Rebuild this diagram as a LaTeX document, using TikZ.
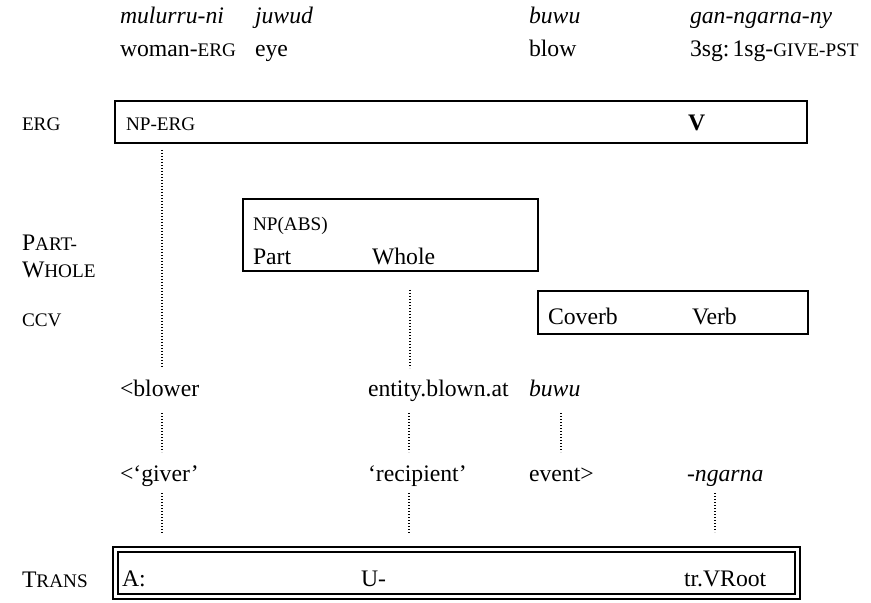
\documentclass[tikz,border=0pt]{standalone}
\usepackage{fontspec}
\setmainfont{Liberation Serif}
% small capitals, faked with reduced upper case
\newcommand\fsc[1]{{\fontsize{9.6}{11}\selectfont #1}}
\begin{document}
\begin{tikzpicture}[x=0.5pt,y=-0.5pt,
  every node/.style={inner sep=0pt, outer sep=0pt},
  txt/.style={anchor=base west, font=\fontsize{11.85}{14}\selectfont},
  gloss/.style={txt, font=\fontsize{11.85}{14}\selectfont\itshape},
  frame/.style={draw, line width=0.55pt},
  heavyframe/.style={draw, line width=1.1pt},
  link/.style={line width=1pt, dash pattern=on 0.7pt off 0.8pt},
]
\useasboundingbox (0,0) rectangle (871,603);

% interlinear gloss
\node[gloss] (w1) at (120,24) {mulurru-ni};
\node[gloss] (w2) at (255,24) {juwud};
\node[gloss] (w3) at (529,24) {buwu};
\node[gloss] (w4) at (690,24) {gan-ngarna-ny};
\node[txt] (g1) at (120,57) {woman-\fsc{ERG}};
\node[txt] (g2) at (255,57) {eye};
\node[txt] (g3) at (529,57) {blow};
\node[txt] (g4) at (690,57) {3sg:\hspace{1.5pt}1sg-\fsc{GIVE-PST}};

% construction labels
\node[txt] (lerg) at (22,131) {\fsc{ERG}};
\node[txt] (lpart) at (22,251) {P\fsc{ART-}};
\node[txt] (lwhole) at (22,278) {W\fsc{HOLE}};
\node[txt] (lccv) at (22,327) {\fsc{CCV}};
\node[txt] (ltrans) at (22,587) {T\fsc{RANS}};

% ergative frame
\node[frame, minimum width=346pt, minimum height=21pt] (ergbox) at (461,122) {};
\node[txt] (nperg) at (126,131) {\fsc{NP-ERG}};
\node[txt] (verb) at (688,131) {\textbf{V}};

% part-whole frame
\node[frame, minimum width=147.5pt, minimum height=36pt] (pwbox) at (390.5,235) {};
\node[txt] (npabs) at (253,231) {\fsc{NP(ABS)}};
\node[txt] (part) at (253,265) {Part};
\node[txt] (whole) at (372,265) {Whole};

% coverb construction frame
\node[frame, minimum width=135pt, minimum height=21.5pt] (ccvbox) at (673,312.5) {};
\node[txt] (coverb) at (548,325) {Coverb};
\node[txt] (ccvverb) at (692,325) {Verb};

% argument structures
\node[txt] (blower) at (120,397) {<blower};
\node[txt] (blownat) at (368,397) {entity.blown.at};
\node[gloss] (buwu) at (529,397) {buwu};
\node[txt] (giver) at (120,481) {<`giver'};
\node[txt] (recip) at (368,481) {`recipient'};
\node[txt] (event) at (529,481) {event>};
\node[gloss] (ngarna) at (687,481) {-ngarna};

% transitive frame (double border)
\node[heavyframe, minimum width=343.5pt, minimum height=26pt] (transbox) at (456.5,573) {};
\node[frame, minimum width=338.5pt, minimum height=21pt] (transinner) at (456.5,573) {};
\node[txt] (ta) at (122,586) {A:};
\node[txt] (tu) at (361,586) {U-};
\node[txt] (troot) at (684,586) {tr.VRoot};

% dotted links
\coordinate (a1) at (162,150);  \coordinate (a2) at (162,368);
\coordinate (b1) at (410,290);  \coordinate (b2) at (410,368);
\coordinate (c1) at (162,413);  \coordinate (c2) at (162,452);
\coordinate (d1) at (409,413);  \coordinate (d2) at (409,452);
\coordinate (e1) at (561,413);  \coordinate (e2) at (561,452);
\coordinate (f1) at (162,493);  \coordinate (f2) at (162,533);
\coordinate (h1) at (409,493);  \coordinate (h2) at (409,533);
\coordinate (k1) at (715,493);  \coordinate (k2) at (715,532);
\foreach \s/\t in {a1/a2,b1/b2,c1/c2,d1/d2,e1/e2,f1/f2,h1/h2,k1/k2}
  \draw[link] (\s) -- (\t);
\end{tikzpicture}
\end{document}
